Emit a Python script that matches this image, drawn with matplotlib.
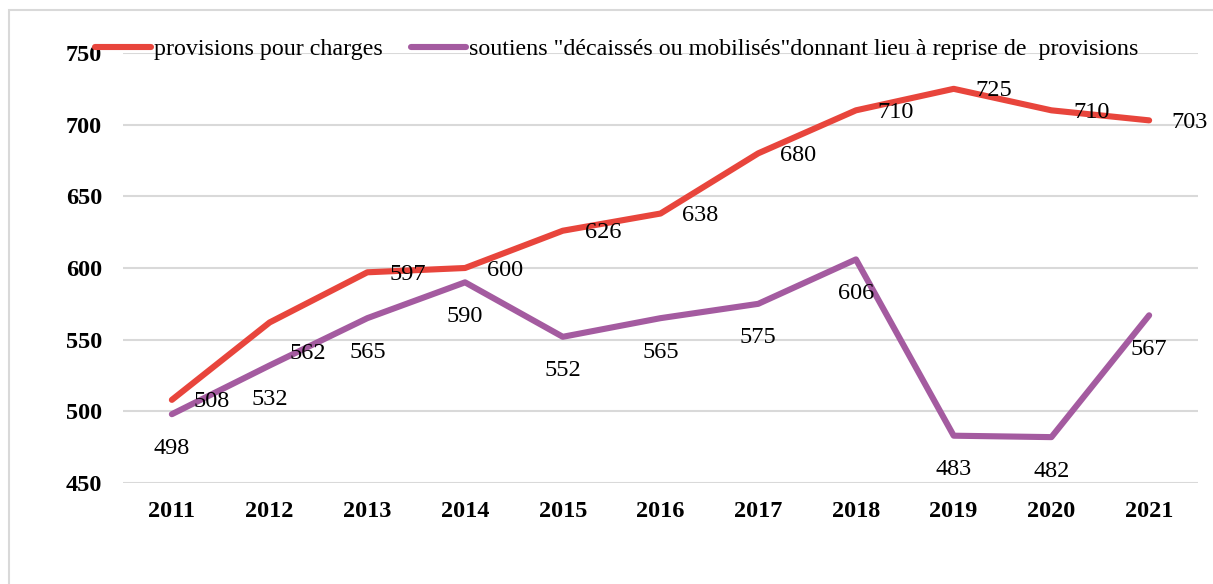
import matplotlib
matplotlib.use("Agg")
import matplotlib.pyplot as plt
from matplotlib.patches import Rectangle

years = ["2011", "2012", "2013", "2014", "2015", "2016", "2017", "2018", "2019", "2020", "2021"]
provisions = [508, 562, 597, 600, 626, 638, 680, 710, 725, 710, 703]
soutiens = [498, 532, 565, 590, 552, 565, 575, 606, 483, 482, 567]
series_names = ["provisions pour charges",
                'soutiens "décaissés ou mobilisés"donnant lieu à reprise de  provisions']
yticks = [450, 500, 550, 600, 650, 700, 750]

RED = "#E8453C"
PURPLE = "#A45BA0"

plt.rcParams['font.family'] = ['Liberation Serif', 'DejaVu Serif']

fig = plt.figure(figsize=(12.13, 5.84), dpi=100)
fig.patch.set_facecolor("white")
ax = fig.add_axes([123/1213, 1-483/584, (1198-123)/1213, (483-53)/584])

x = list(range(len(years)))
l1, = ax.plot(x, provisions, color=RED, lw=4.4, solid_capstyle='round', solid_joinstyle='round', zorder=3)
l2, = ax.plot(x, soutiens, color=PURPLE, lw=4.4, solid_capstyle='round', solid_joinstyle='round', zorder=3)

# data labels: red to the right, purple below
special = {1: (38, -31)}
for i, v in enumerate(provisions):
    dx, dy = special.get(i, (40, -2))
    ax.annotate(str(v), (i, v), xytext=(dx*0.72, dy*0.72), textcoords='offset points',
                ha='center', va='center', fontsize=17.5, color='black', zorder=4)
for i, v in enumerate(soutiens):
    ax.annotate(str(v), (i, v), xytext=(0, -34*0.72), textcoords='offset points',
                ha='center', va='center', fontsize=17.5, color='black', zorder=4)

ax.set_xlim(-0.5, len(years) - 0.5)
ax.set_ylim(450, 750)
ax.set_yticks(yticks)
ax.set_xticks(x)
ax.set_xticklabels(years)
for lab in ax.get_xticklabels() + ax.get_yticklabels():
    lab.set_fontweight('bold')
    lab.set_fontsize(17.5)
ax.tick_params(axis='y', length=0, pad=15)
ax.tick_params(axis='x', length=0, pad=13)
ax.grid(axis='y', color='#D9D9D9', lw=1.5)
ax.set_axisbelow(True)
for s in ax.spines.values():
    s.set_visible(False)

leg = fig.legend([l1, l2], series_names, loc='center',
                 bbox_to_anchor=(617/1213, 1-49/584), ncol=2, frameon=False,
                 fontsize=17.3, handlelength=2.3, handletextpad=0.12, columnspacing=1.2)

fig.patches.append(Rectangle((9/1213, -0.05), 1.2, 1.05 - 10/584, transform=fig.transFigure,
                             fill=False, edgecolor='#D9D9D9', lw=1.5))

fig.savefig("out.png", dpi=100)
